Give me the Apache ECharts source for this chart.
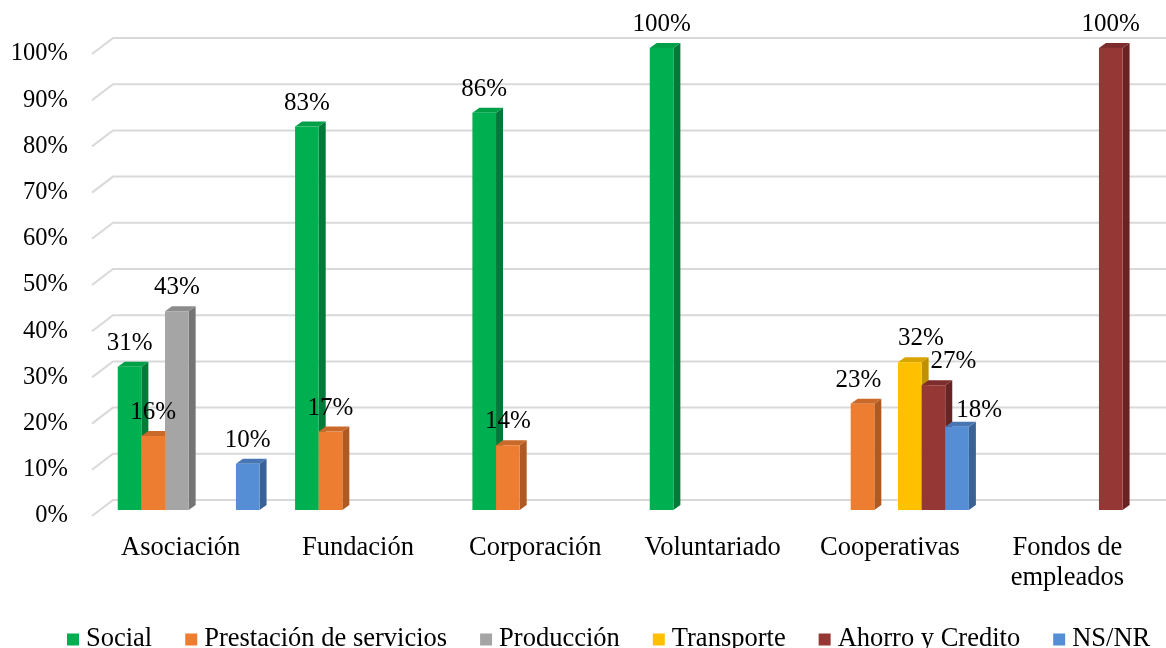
<!DOCTYPE html>
<html>
<head>
<meta charset="utf-8">
<script src="https://cdn.jsdelivr.net/npm/echarts@6/dist/echarts.min.js"></script>
<style>
  html, body { margin: 0; padding: 0; background: #fff; }
  #chart { width: 1166px; height: 648px; }
</style>
</head>
<body>
<div id="chart"></div>
<script>
// categorias y valores (%)
var categories = ["Asociación", "Fundación", "Corporación", "Voluntariado", "Cooperativas", "Fondos de\nempleados"];
var social = [31, 83, 86, 100, null, null];
var prestacion = [16, 17, 14, null, 23, null];
var produccion = [43, null, null, null, null, null];
var transporte = [null, null, null, null, 32, null];
var ahorro = [null, null, null, null, 27, 100];
var nsnr = [10, null, null, null, 18, null];
var ticks = [0, 10, 20, 30, 40, 50, 60, 70, 80, 90, 100];

var font = "'Liberation Serif', 'Times New Roman', serif";

var seriesDefs = [
  { name: "Social", data: social, color: ["#00b050", "#00a049", "#007a38"] },
  { name: "Prestación de servicios", data: prestacion, color: ["#ed7d31", "#c9692a", "#ae5a22"] },
  { name: "Producción", data: produccion, color: ["#a5a5a5", "#8c8c8c", "#747474"] },
  { name: "Transporte", data: transporte, color: ["#ffc000", "#d9a300", "#bf9000"] },
  { name: "Ahorro y Credito", data: ahorro, color: ["#953735", "#7d2d2c", "#682423"] },
  { name: "NS/NR", data: nsnr, color: ["#558ed5", "#4776b3", "#3a6294"] }
];

// etiquetas movidas a mano en Cooperativas (serie-categoria: [dx, dy])
var labelShift = {
  "1-4": [-4, 0],
  "3-4": [11, 0],
  "4-4": [20, 0],
  "5-4": [22, 7]
};

var myChart = echarts.init(document.getElementById("chart"));

function barRender(idx, col) {
  return function(params, api) {
    var cat = api.value(0);
    var val = api.value(1);
    var top = api.coord([cat, val]);
    var base = api.coord([cat, 0]);
    var band = api.size([1, 0])[0];
    var w = band * 0.1333;
    var x0 = base[0] - 3 * w + band * 0.045 + idx * w;
    var yTop = top[1] - 6;
    var yBot = base[1] - 6;
    var dx = 7, dy = -5;
    var sh = labelShift[idx + "-" + cat] || [0, 0];
    return {
      type: "group",
      children: [
        {
          type: "polygon",
          shape: { points: [[x0 + w, yTop], [x0 + w + dx, yTop + dy], [x0 + w + dx, yBot + dy], [x0 + w, yBot]] },
          style: { fill: col[2] }
        },
        {
          type: "polygon",
          shape: { points: [[x0, yTop], [x0 + dx, yTop + dy], [x0 + w + dx, yTop + dy], [x0 + w, yTop]] },
          style: { fill: col[1] }
        },
        {
          type: "rect",
          shape: { x: x0, y: yTop, width: w, height: yBot - yTop },
          style: { fill: col[0] }
        },
        {
          type: "text",
          z2: 10,
          x: x0 + w / 2 + sh[0],
          y: yTop + dy - 6 + sh[1],
          style: {
            text: val + "%",
            fill: "#000",
            font: "25px " + font,
            align: "center",
            verticalAlign: "bottom"
          }
        }
      ]
    };
  };
}

var series = [
  {
    name: "grid",
    type: "custom",
    silent: true,
    z: 0,
    data: ticks.map(function(t) { return [0, t]; }),
    renderItem: function(params, api) {
      var p = api.coord([0, api.value(1)]);
      var left = params.coordSys.x;
      var right = api.getWidth();
      return {
        type: "polyline",
        shape: { points: [[left, p[1]], [left + 21, p[1] - 16], [right, p[1] - 16]] },
        style: { stroke: "#d9d9d9", lineWidth: 2, fill: null }
      };
    }
  }
];

seriesDefs.forEach(function(s, i) {
  var d = [];
  s.data.forEach(function(v, c) {
    if (v !== null) d.push([c, v]);
  });
  series.push({
    name: s.name,
    type: "custom",
    z: 2,
    itemStyle: { color: s.color[0] },
    data: d,
    renderItem: barRender(i, s.color)
  });
});

var option = {
  backgroundColor: "#fff",
  animation: false,
  legend: {
    data: seriesDefs.map(function(s) { return s.name; }),
    top: 621,
    left: 62,
    icon: "rect",
    itemWidth: 12,
    itemHeight: 12,
    itemGap: 33,
    textStyle: { fontFamily: font, fontSize: 26.5, color: "#000", padding: [0, 0, 0, 2] }
  },
  grid: {
    left: 92,
    right: 10,
    top: 54,
    bottom: 132
  },
  xAxis: {
    type: "category",
    data: categories,
    axisLine: { show: false },
    axisTick: { show: false },
    axisLabel: {
      margin: 17,
      interval: 0,
      color: "#000",
      fontFamily: font,
      fontSize: 26.5,
      lineHeight: 30
    }
  },
  yAxis: {
    type: "value",
    min: 0,
    max: 100,
    interval: 10,
    axisLine: { show: false },
    axisTick: { show: false },
    splitLine: { show: false },
    axisLabel: {
      margin: 24,
      color: "#000",
      fontFamily: font,
      fontSize: 24.5,
      formatter: "{value}%"
    }
  },
  series: series
};

myChart.setOption(option, true);
</script>
</body>
</html>
